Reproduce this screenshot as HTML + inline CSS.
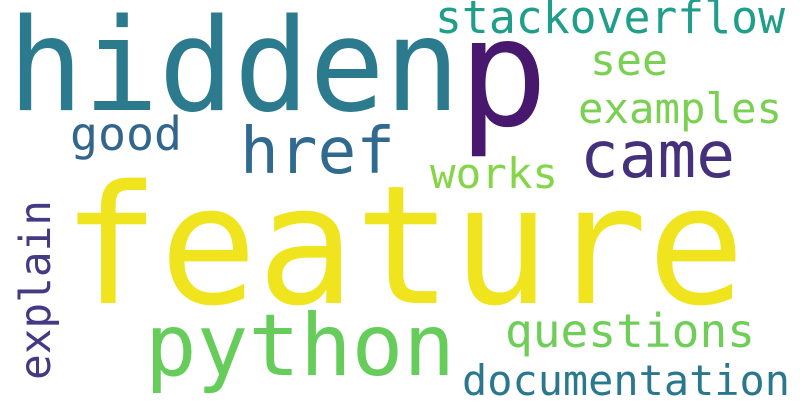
<!DOCTYPE html>
<html><head><meta charset="utf-8"><style>
html,body{margin:0;padding:0;background:#fff;}
svg text{font-family:"DejaVu Sans Mono","Liberation Mono",monospace;}
</style></head><body>
<svg width="800" height="400" viewBox="0 0 800 400">
<rect width="800" height="400" fill="#ffffff"/>
<text x="8" y="110" font-size="128" fill="#2c7a8e" textLength="452" lengthAdjust="spacingAndGlyphs">hidden</text>
<text x="458" y="125" font-size="150" fill="#47186e">p</text>
<text x="62" y="303" font-size="165" fill="#f0e41f" textLength="683" lengthAdjust="spacingAndGlyphs">feature</text>
<text x="145" y="375" font-size="86" fill="#66cc5a" textLength="310" lengthAdjust="spacingAndGlyphs">python</text>
<text x="240" y="173" font-size="64" fill="#306a8e" textLength="155" lengthAdjust="spacingAndGlyphs">href</text>
<text x="580" y="177" font-size="64" fill="#45307c" textLength="155" lengthAdjust="spacingAndGlyphs">came</text>
<text x="70" y="150" font-size="46" fill="#33668d" textLength="112" lengthAdjust="spacingAndGlyphs">good</text>
<text x="435" y="33" font-size="45" fill="#1f9e89" textLength="350" lengthAdjust="spacingAndGlyphs">stackoverflow</text>
<text x="590" y="75" font-size="43" fill="#7ad151" textLength="78" lengthAdjust="spacingAndGlyphs">see</text>
<text x="578" y="123" font-size="42" fill="#7ad151" textLength="204" lengthAdjust="spacingAndGlyphs">examples</text>
<text x="430" y="188" font-size="42" fill="#86d549" textLength="128" lengthAdjust="spacingAndGlyphs">works</text>
<text transform="translate(50,380) rotate(-90)" font-size="43" fill="#443a83" textLength="180" lengthAdjust="spacingAndGlyphs">explain</text>
<text x="505" y="347" font-size="46" fill="#6ece58" textLength="250" lengthAdjust="spacingAndGlyphs">questions</text>
<text x="462" y="395" font-size="42" fill="#2a788e" textLength="328" lengthAdjust="spacingAndGlyphs">documentation</text>
</svg>
</body></html>
